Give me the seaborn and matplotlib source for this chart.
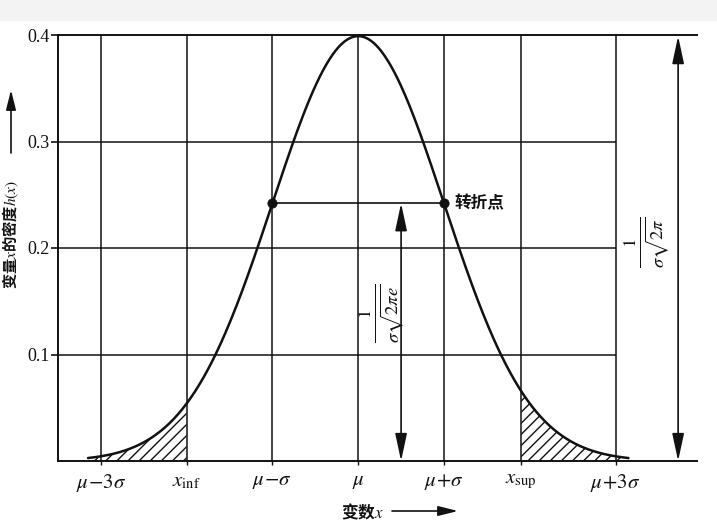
import numpy as np
import pandas as pd
import matplotlib
matplotlib.use("Agg")
import matplotlib.pyplot as plt
import seaborn as sns
from matplotlib.patches import Rectangle

# ---- data (in units of sigma, mu = 0) ----
mu = 0.0
sigma = 1.0
curve_start = -3.15
curve_end = 3.15
x_inf = -2.0
x_sup = 1.9
arrow_inner_x = 0.5
arrow_outer_x = 3.73
xtick_pos = [-3, x_inf, -1, 0, 1, x_sup, 3]
xtick_labels = [r"$\mu\!-\!3\sigma$", r"$x_{\rm inf}$", r"$\mu\!-\!\sigma$", r"$\mu$",
                r"$\mu\!+\!\sigma$", r"$x_{\rm sup}$", r"$\mu\!+\!3\sigma$"]
ytick_pos = [0.1, 0.2, 0.3, 0.4]
ytick_labels = ["0.1", "0.2", "0.3", "0.4"]
hgrid_vals = [0.1, 0.2, 0.3]
inflection_text = "转折点"
xlabel_text = "变数$x$"
ylabel_text = "变量$x$的密度$h(x)$"
label_inner = r"$\frac{1}{\sigma\sqrt{2\pi e}}$"
label_outer = r"$\frac{1}{\sigma\sqrt{2\pi}}$"

# normal density curve defined by mu and sigma
def density(x):
    return np.exp(-0.5 * ((x - mu) / sigma) ** 2) / (sigma * np.sqrt(2 * np.pi))

xs = np.linspace(curve_start, curve_end, 500)
df = pd.DataFrame({"x": xs, "h": density(xs)})
y_turn = density(mu + sigma)
y_peak = density(mu)

sns.set_style("white")
plt.rcParams["font.family"] = ["Liberation Serif", "Noto Sans CJK SC"]
plt.rcParams["mathtext.fontset"] = "stix"
plt.rcParams["hatch.linewidth"] = 1.0

W, H = 717, 526
fig = plt.figure(figsize=(W / 100, H / 100), dpi=100)
fig.patches.append(Rectangle((0, 1 - 20 / H), 1, 20 / H, transform=fig.transFigure,
                             color="#f3f3f3", zorder=-5))
ax = fig.add_axes([58 / W, (H - 461) / H, (697 - 58) / W, (461 - 35) / H])
ax.set_xlim(-3.5, 3.95)
ax.set_ylim(0, 0.4)

ink = "#111111"
for s in ["top", "bottom", "left"]:
    ax.spines[s].set_color(ink)
    ax.spines[s].set_linewidth(1.4)
ax.spines["right"].set_visible(False)

# grid
ax.vlines(xtick_pos, 0, 0.4, color=ink, lw=1.1, zorder=1)
ax.hlines(hgrid_vals, -3.5, 3, color=ink, lw=1.1, zorder=1)

# curve
sns.lineplot(data=df, x="x", y="h", color=ink, lw=1.8, ax=ax, zorder=3)

# hatched tails
m1 = df["x"] <= x_inf
m2 = df["x"] >= x_sup
for m in (m1, m2):
    ax.fill_between(df["x"][m], 0, df["h"][m], hatch="///", facecolor="none",
                    edgecolor=ink, linewidth=0, zorder=2)

# inflection points
ax.plot([mu - sigma, mu + sigma], [y_turn, y_turn], color=ink, lw=1.2, zorder=3)
sns.scatterplot(x=[mu - sigma, mu + sigma], y=[y_turn, y_turn], color=ink, s=45,
                edgecolor=ink, ax=ax, zorder=4)
ax.text(1.12, y_turn, inflection_text, family=["Noto Sans CJK SC"], fontsize=12,
        weight="bold", ha="left", va="center", color=ink)

# dimension arrows
aprops = dict(arrowstyle="<|-|>,head_length=1.4,head_width=0.3", color=ink, lw=1.2,
              shrinkA=0, shrinkB=0, mutation_scale=12)
ax.annotate("", xy=(arrow_inner_x, 0), xytext=(arrow_inner_x, y_turn), arrowprops=aprops,
            annotation_clip=False)
ax.annotate("", xy=(arrow_outer_x, 0), xytext=(arrow_outer_x, y_peak), arrowprops=aprops,
            annotation_clip=False)
ax.text(0.27, 0.139, label_inner, rotation=90, ha="center", va="center", fontsize=19, color=ink)
ax.text(3.36, 0.205, label_outer, rotation=90, ha="center", va="center", fontsize=19, color=ink)

# ticks
ax.set_xticks(xtick_pos)
ax.set_xticklabels(xtick_labels, fontsize=15, color=ink)
ax.set_yticks(ytick_pos)
ax.set_yticklabels(ytick_labels, fontsize=13, color=ink)
ax.tick_params(axis="y", direction="out", length=5, width=1.2, pad=1, color=ink, left=True)
ax.tick_params(axis="x", direction="out", length=3, width=1.0, pad=5, color=ink, bottom=True)
ax.set_xlabel("")
ax.set_ylabel("")

# axis titles with arrows
fig.text(362 / W, 1 - 512 / H, xlabel_text, family=["Noto Sans CJK SC"], fontsize=12,
         weight="bold", ha="center", va="center", color=ink)
fig.text(11 / W, 1 - 234 / H, ylabel_text, family=["Noto Sans CJK SC"], fontsize=11,
         weight="bold", rotation=90, ha="center", va="center", color=ink)
a2 = dict(arrowstyle="-|>,head_length=1.2,head_width=0.3", color=ink, lw=1.2,
          shrinkA=0, shrinkB=0, mutation_scale=10)
ax.annotate("", xy=(458, H - 511), xytext=(392, H - 511), xycoords="figure pixels",
            textcoords="figure pixels", arrowprops=a2, annotation_clip=False)
ax.annotate("", xy=(11, H - 90), xytext=(11, H - 153), xycoords="figure pixels",
            textcoords="figure pixels", arrowprops=a2, annotation_clip=False)

fig.savefig("out.png", dpi=100)
